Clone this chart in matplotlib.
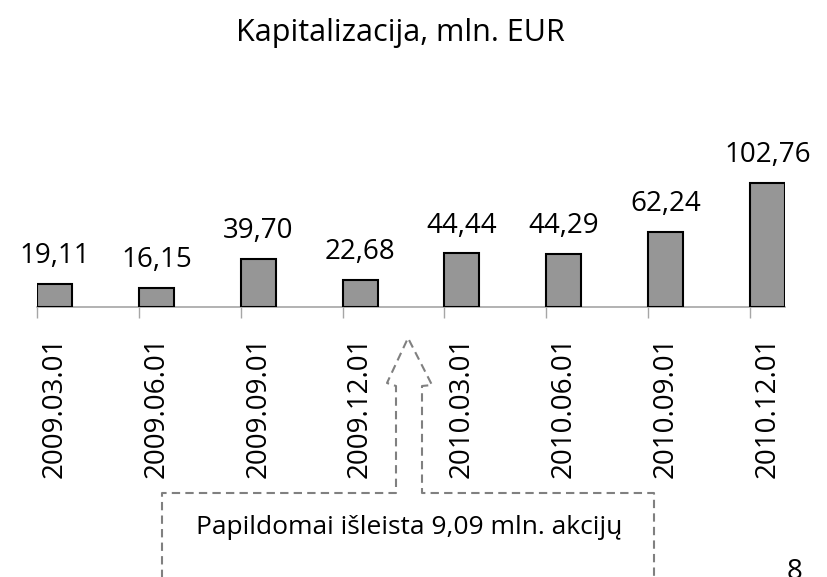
import matplotlib
matplotlib.use("Agg")
import matplotlib.pyplot as plt
from matplotlib.lines import Line2D

plt.rcParams['font.family'] = ['Open Sans', 'DejaVu Sans']

# data
dates = ["2009.03.01", "2009.06.01", "2009.09.01", "2009.12.01",
         "2010.03.01", "2010.06.01", "2010.09.01", "2010.12.01"]
values = [19.11, 16.15, 39.70, 22.68, 44.44, 44.29, 62.24, 102.76]
value_labels = ["19,11", "16,15", "39,70", "22,68", "44,44", "44,29", "62,24", "102,76"]

W, H = 828, 577
fig = plt.figure(figsize=(W / 100, H / 100), dpi=100)

bw = 0.344
# axes placed in pixels: baseline at y=307 from top, x from 37 to 785
ax = fig.add_axes([37 / W, (H - 307) / H, 748 / W, 144.7 / H])
ax.set_xlim(0, 7 + bw)
ax.set_ylim(0, 120)

pos = list(range(len(values)))
bars = ax.bar(pos, values, width=bw, align='edge', color='#969696',
              edgecolor='black', linewidth=1.5, zorder=3)

for b, lab in zip(bars, value_labels):
    ax.annotate(lab, (b.get_x() + b.get_width() / 2, b.get_height()),
                xytext=(0, 10), textcoords='offset points',
                ha='center', va='bottom', fontsize=20)

for s in ['top', 'right', 'left']:
    ax.spines[s].set_visible(False)
ax.spines['bottom'].set_color('#a6a6a6')
ax.spines['bottom'].set_linewidth(1.2)
ax.set_yticks([])

# tick marks at the left bar edges, labels centred under the bars
ax.set_xticks(pos)
ax.set_xticklabels([])
ax.tick_params(axis='x', which='major', length=8, color='#a6a6a6', width=1)
ax.set_xticks([p + bw / 2 for p in pos], minor=True)
ax.set_xticklabels(dates, minor=True, rotation=90, fontsize=20)
ax.tick_params(axis='x', which='minor', length=0, pad=21)

fig.text(400 / W, 1 - 33 / H, "Kapitalizacija, mln. EUR",
         ha='center', va='center', fontsize=22)

# dashed callout arrow
px = [162, 162, 396, 396, 387, 408, 432, 422, 422, 654, 654]
py = [590, 493, 493, 386, 383, 338, 385, 386, 493, 493, 590]
fig.add_artist(Line2D([x / W for x in px], [1 - y / H for y in py],
                      transform=fig.transFigure, color='#808080',
                      linewidth=1.5, linestyle=(0, (4, 2.5))))
fig.text(409 / W, 1 - 527 / H, "Papildomai išleista 9,09 mln. akcijų",
         ha='center', va='center', fontsize=19)

fig.text(795 / W, 1 - 572 / H, "8", ha='center', va='center', fontsize=20)

fig.savefig("out.png", dpi=100)
